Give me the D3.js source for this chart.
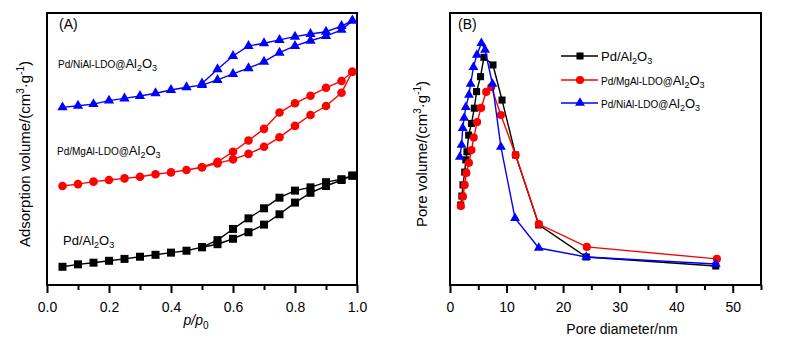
<!DOCTYPE html>
<html>
<head>
<meta charset="utf-8">
<script src="https://cdn.jsdelivr.net/npm/d3@7"></script>
<style>
  body { margin: 0; background: #fff; }
  svg { font-family: "Liberation Sans", Arial, sans-serif; }
</style>
</head>
<body>
<div id="chart"></div>
<script>
// (A) N2 isotherms: relative pressure, adsorption and desorption branches
const pressure = [0.05, 0.1, 0.15, 0.2, 0.25, 0.3, 0.35, 0.4, 0.45, 0.5,
  0.55, 0.6, 0.65, 0.7, 0.75, 0.8, 0.85, 0.9, 0.95, 0.985]
const desPressure = [0.5, 0.55, 0.6, 0.65, 0.7, 0.75, 0.8, 0.85, 0.9, 0.95, 0.985]

const adsAl2O3 = [6.7, 7.6, 8.2, 8.9, 9.6, 10.4, 11.1, 11.9, 12.6, 13.9,
  15.0, 17.0, 19.4, 22.2, 26.0, 30.3, 33.9, 36.4, 38.6, 40.2]
const desAl2O3 = [13.9, 16.5, 20.6, 24.5, 28.2, 32.1, 34.7, 35.9, 37.8, 38.9, 40.2]

const adsMgAl = [36.4, 37.1, 38.0, 38.6, 39.2, 39.8, 40.7, 41.4, 42.3, 43.3,
  44.7, 46.2, 48.2, 50.8, 54.3, 58.5, 62.5, 65.8, 70.7, 78.4]
const desMgAl = [43.3, 45.3, 49.0, 53.1, 57.4, 63.4, 66.8, 69.6, 72.5, 75.0, 78.4]

const adsNiAl = [65.3, 65.9, 66.5, 67.8, 68.6, 69.5, 70.5, 71.7, 72.7, 73.5,
  75.4, 77.6, 79.7, 82.1, 85.4, 87.9, 89.8, 91.5, 93.8, 97.2]
const desNiAl = [74.1, 79.3, 84.2, 87.9, 88.9, 90.1, 91.3, 92.3, 93.1, 95.2, 97.2]

// (B) pore size distribution
const diamAl2O3 = [1.9, 2.1, 2.3, 2.6, 2.8, 3.0, 3.3, 3.8, 4.3, 4.7, 5.4, 6.0, 7.6, 9.2, 11.6, 15.7, 24.1, 47.0]
const poreAl2O3 = [29.4, 32.7, 36.8, 41.5, 46.0, 49.0, 55.1, 59.4, 65.0, 71.1, 76.6, 83.7, 80.9, 68.0, 47.8, 22.1, 10.3, 7.0]

const diamMgAl = [1.9, 2.3, 2.6, 2.9, 3.35, 3.8, 4.2, 4.8, 5.5, 6.4, 7.3, 9.0, 11.6, 15.7, 24.2, 47.2]
const poreMgAl = [29.0, 32.5, 36.8, 41.2, 44.9, 49.6, 54.2, 59.9, 65.1, 71.0, 72.8, 62.5, 47.8, 22.4, 14.0, 9.6]

const diamNiAl = [1.75, 2.05, 2.25, 2.5, 2.8, 3.35, 3.65, 4.15, 4.75, 5.55, 6.2, 7.5, 9.0, 11.5, 15.7, 24.1, 47.0]
const poreNiAl = [47.1, 51.5, 57.7, 61.4, 65.4, 69.9, 73.9, 80.1, 84.6, 88.9, 86.4, 73.9, 50.8, 24.6, 13.6, 10.3, 7.7]

const ticksA = [0, 0.2, 0.4, 0.6, 0.8, 1.0]
const minorA = [0.1, 0.3, 0.5, 0.7, 0.9]
const ticksB = [0, 10, 20, 30, 40, 50]
const minorB = [5, 15, 25, 35, 45, 55]

const width = 800
const height = 345
const plotTop = 13
const plotBottom = 285

const svg = d3.select('#chart').append('svg')
  .attr('width', width)
  .attr('height', height)

const xA = d3.scaleLinear().domain([0, 1]).range([47, 357])
const yA = d3.scaleLinear().domain([0, 100]).range([plotBottom, plotTop])
const xB = d3.scaleLinear().domain([0, 55]).range([450, 761])
const yB = d3.scaleLinear().domain([0, 100]).range([plotBottom, plotTop])

function frame (x) {
  svg.append('rect')
    .attr('x', x.range()[0])
    .attr('y', plotTop)
    .attr('width', x.range()[1] - x.range()[0])
    .attr('height', plotBottom - plotTop)
    .attr('fill', 'none')
    .attr('stroke', '#000')
    .attr('stroke-width', 2)
}

function bottomAxis (x, major, minor, fmt) {
  const g = svg.append('g').attr('transform', `translate(0,${plotBottom})`)
  g.call(d3.axisBottom(x).tickValues(major).tickSize(8).tickPadding(9).tickFormat(fmt))
  g.append('g').call(d3.axisBottom(x).tickValues(minor).tickSize(5).tickFormat(''))
  g.selectAll('.domain').remove()
  g.selectAll('line').attr('stroke', '#000').attr('stroke-width', 2)
  g.selectAll('text')
    .attr('font-size', 14)
    .attr('font-family', '"Liberation Sans", Arial, sans-serif')
    .attr('fill', '#000')
}

const marker = {
  square: d3.symbolSquare,
  circle: d3.symbolCircle,
  triangle: d3.symbolTriangle
}

function series (x, y, xs, ys, color, shape, size) {
  const pts = xs.map((d, i) => [d, ys[i]])
  const g = svg.append('g')
  g.append('path')
    .datum(pts)
    .attr('fill', 'none')
    .attr('stroke', color)
    .attr('stroke-width', 1.4)
    .attr('d', d3.line().x(d => x(d[0])).y(d => y(d[1])))
  g.selectAll('path.pt')
    .data(pts)
    .enter().append('path')
    .attr('class', 'pt')
    .attr('transform', d => `translate(${x(d[0])},${y(d[1])})`)
    .attr('d', d3.symbol().type(marker[shape]).size(size))
    .attr('fill', color)
}

// formula like Pd/NiAl-LDO@Al2O3 with subscripts
function chem (x, y, prefix, prefixSize) {
  const t = svg.append('text').attr('x', x).attr('y', y).attr('font-size', 13)
  t.append('tspan').attr('font-size', prefixSize).text(prefix)
  t.append('tspan').text('Al')
  t.append('tspan').attr('font-size', 9).attr('dy', 3).text('2')
  t.append('tspan').attr('dy', -3).text('O')
  t.append('tspan').attr('font-size', 9).attr('dy', 3).text('3')
}

function yLabel (x, y, title) {
  const t = svg.append('text')
    .attr('transform', `translate(${x},${y}) rotate(-90)`)
    .attr('text-anchor', 'middle')
    .attr('font-size', 15)
  t.append('tspan').text(title + '/(cm')
  t.append('tspan').attr('font-size', 10).attr('dy', -6).text('3')
  t.append('tspan').attr('dy', 6).text('\u00b7g')
  t.append('tspan').attr('font-size', 10).attr('dy', -6).text('-1')
  t.append('tspan').attr('dy', 6).text(')')
}

// ---- panel A
frame(xA)
bottomAxis(xA, ticksA, minorA, d3.format('.1f'))

series(xA, yA, pressure, adsAl2O3, '#000', 'square', 64)
series(xA, yA, desPressure, desAl2O3, '#000', 'square', 64)
series(xA, yA, pressure, adsMgAl, '#ff0000', 'circle', 58)
series(xA, yA, desPressure, desMgAl, '#ff0000', 'circle', 58)
series(xA, yA, pressure, adsNiAl, '#0000ff', 'triangle', 46)
series(xA, yA, desPressure, desNiAl, '#0000ff', 'triangle', 46)

svg.append('text').attr('x', 59).attr('y', 29).attr('font-size', 14).text('(A)')
chem(58, 68, 'Pd/NiAl-LDO@', 10)
chem(57, 155, 'Pd/MgAl-LDO@', 10)
chem(63, 245, 'Pd/', 13)

yLabel(30, 154, 'Adsorption volume')
const px = svg.append('text')
  .attr('x', 196).attr('y', 325)
  .attr('text-anchor', 'middle')
  .attr('font-size', 14)
px.append('tspan').attr('font-style', 'italic').text('p/p')
px.append('tspan').attr('font-size', 10).attr('dy', 4).text('0')

// ---- panel B
frame(xB)
bottomAxis(xB, ticksB, minorB, d3.format('d'))

series(xB, yB, diamAl2O3, poreAl2O3, '#000', 'square', 50)
series(xB, yB, diamMgAl, poreMgAl, '#ff0000', 'circle', 52)
series(xB, yB, diamNiAl, poreNiAl, '#0000ff', 'triangle', 42)

svg.append('text').attr('x', 458).attr('y', 29).attr('font-size', 14).text('(B)')

// legend
const legendRows = [
  { color: '#000', shape: 'square', size: 50, y: 56, prefix: 'Pd/', prefixSize: 13 },
  { color: '#ff0000', shape: 'circle', size: 52, y: 80, prefix: 'Pd/MgAl-LDO@', prefixSize: 10 },
  { color: '#0000ff', shape: 'triangle', size: 42, y: 103, prefix: 'Pd/NiAl-LDO@', prefixSize: 10 }
]
legendRows.forEach(r => {
  svg.append('line')
    .attr('x1', 561).attr('x2', 598)
    .attr('y1', r.y).attr('y2', r.y)
    .attr('stroke', r.color).attr('stroke-width', 1.4)
  svg.append('path')
    .attr('transform', `translate(580,${r.y})`)
    .attr('d', d3.symbol().type(marker[r.shape]).size(r.size))
    .attr('fill', r.color)
  chem(601, r.y + 5, r.prefix, r.prefixSize)
})

yLabel(427, 154, 'Pore volume')
svg.append('text')
  .attr('x', 622).attr('y', 334)
  .attr('text-anchor', 'middle')
  .attr('font-size', 14)
  .text('Pore diameter/nm')
</script>
</body>
</html>
